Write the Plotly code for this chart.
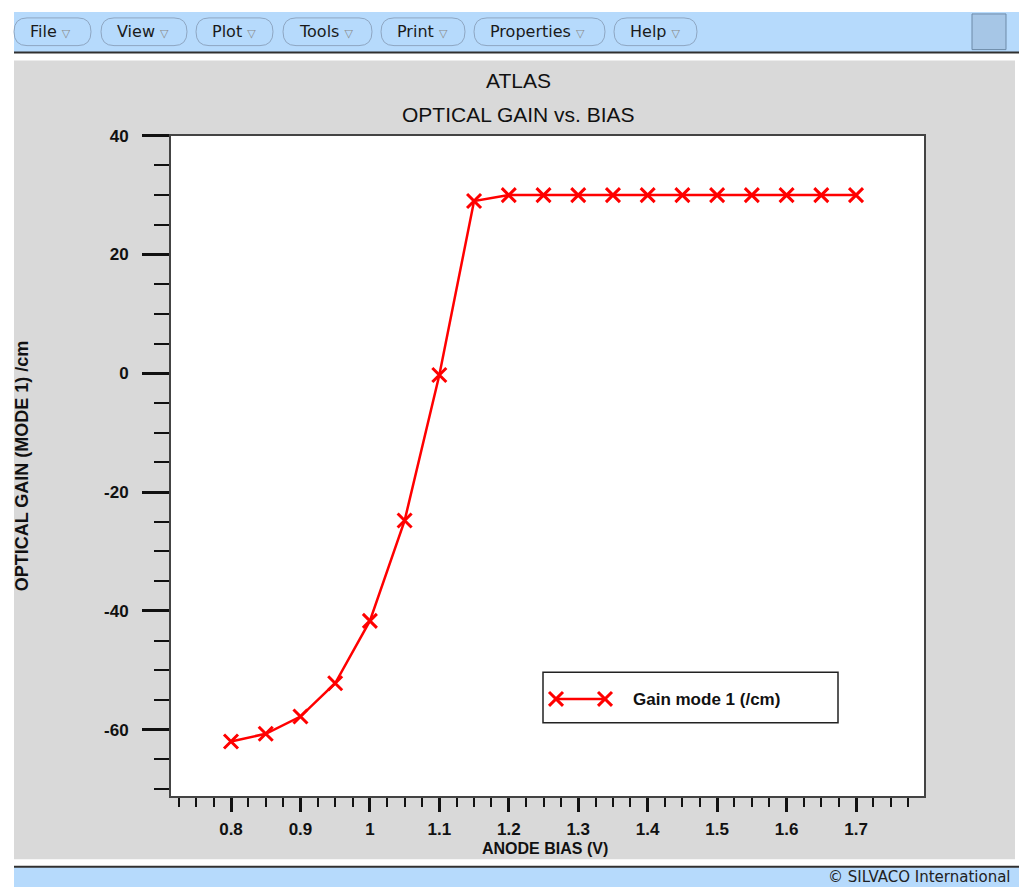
import plotly.graph_objects as go

# ---------------- data ----------------
anode_bias_v = [0.80, 0.85, 0.90, 0.95, 1.00, 1.05, 1.10, 1.15, 1.20, 1.25, 1.30,
                1.35, 1.40, 1.45, 1.50, 1.55, 1.60, 1.65, 1.70]
gain_mode1 = [-62.0, -60.7, -57.8, -52.2, -41.7, -24.8, -0.3, 29.0, 30.0, 30.0, 30.0,
              30.0, 30.0, 30.0, 30.0, 30.0, 30.0, 30.0, 30.0]
series_name = "Gain mode 1 (/cm)"

x_tickvals = [0.8, 0.9, 1.0, 1.1, 1.2, 1.3, 1.4, 1.5, 1.6, 1.7]
x_ticktext = ["0.8", "0.9", "1", "1.1", "1.2", "1.3", "1.4", "1.5", "1.6", "1.7"]
y_tickvals = [-60, -40, -20, 0, 20, 40]
y_ticktext = ["-60", "-40", "-20", "0", "20", "40"]

menu_items = ["File", "View", "Plot", "Tools", "Print", "Properties", "Help"]

# ---------------- layout helpers ----------------
W, H = 1019, 887
def px(x):
    return x / W
def py(y):
    return 1 - y / H

BLUE = "#b6dafc"
GRAY = "#d9d9d9"
RED = "#ff0000"
FONT = "Liberation Sans"

fig = go.Figure()
fig.add_trace(go.Scatter(
    x=anode_bias_v, y=gain_mode1, mode="lines+markers", name=series_name,
    line=dict(color=RED, width=2.5),
    marker=dict(symbol="x-thin", size=14, color=RED, line=dict(color=RED, width=3)),
    showlegend=False, cliponaxis=False,
))

shapes = []
# top menu bar
shapes.append(dict(type="rect", xref="paper", yref="paper", x0=px(14), x1=px(W), y0=py(3), y1=py(44),
                   fillcolor=BLUE, line=dict(width=0), layer="below"))
shapes.append(dict(type="line", xref="paper", yref="paper", x0=px(14), x1=px(W), y0=py(44), y1=py(44),
                   line=dict(color="#303030", width=2), layer="below"))
# gray canvas
shapes.append(dict(type="rect", xref="paper", yref="paper", x0=px(14), x1=px(1015), y0=py(52), y1=py(859),
                   fillcolor=GRAY, line=dict(width=0), layer="below"))
# white plotting area
shapes.append(dict(type="rect", xref="paper", yref="paper", x0=px(171), x1=px(924), y0=py(795), y1=py(128),
                   fillcolor="white", line=dict(width=0), layer="below"))
# footer bar
shapes.append(dict(type="rect", xref="paper", yref="paper", x0=px(14), x1=px(W), y0=py(867), y1=py(H),
                   fillcolor=BLUE, line=dict(width=0), layer="below"))
shapes.append(dict(type="line", xref="paper", yref="paper", x0=px(14), x1=px(W), y0=py(866.5), y1=py(866.5),
                   line=dict(color="#303030", width=2), layer="below"))
# right square in menu bar
shapes.append(dict(type="rect", xref="paper", yref="paper", x0=px(972), x1=px(1006), y0=py(5), y1=py(41),
                   fillcolor="#a6c6e6", line=dict(color="#6d8aa8", width=1), layer="below"))

annotations = []
# menu buttons
btn_x = [(14, 91), (101, 187), (196, 273), (283, 372), (381, 465), (474, 605), (614, 697)]
for label, (x0, x1) in zip(menu_items, btn_x):
    r = 13
    y0, y1 = 9, 37
    path = (f"M {px(x0 + r)} {py(y0)} L {px(x1 - r)} {py(y0)} "
            f"Q {px(x1)} {py(y0)} {px(x1)} {py((y0 + y1) / 2)} "
            f"Q {px(x1)} {py(y1)} {px(x1 - r)} {py(y1)} "
            f"L {px(x0 + r)} {py(y1)} "
            f"Q {px(x0)} {py(y1)} {px(x0)} {py((y0 + y1) / 2)} "
            f"Q {px(x0)} {py(y0)} {px(x0 + r)} {py(y0)} Z")
    shapes.append(dict(type="path", xref="paper", yref="paper", path=path,
                       fillcolor=BLUE, line=dict(color="#8ea6c2", width=1), layer="below"))
    annotations.append(dict(xref="paper", yref="paper", x=px(x0 + 14), y=py(23), xanchor="left", yanchor="middle",
                            text=label + " <span style='font-size:11px;color:#8a8a8a'>\u25bd</span>",
                            showarrow=False, font=dict(family="DejaVu Sans", size=16, color="#1a1a1a")))

# titles
annotations.append(dict(xref="paper", yref="paper", x=px(518), y=py(72), xanchor="center", yanchor="middle",
                        text="ATLAS", showarrow=False, font=dict(family=FONT, size=21, color="#111")))
annotations.append(dict(xref="paper", yref="paper", x=px(518), y=py(107), xanchor="center", yanchor="middle",
                        text="OPTICAL GAIN vs. BIAS", showarrow=False, font=dict(family=FONT, size=21, color="#111")))
# axis titles
annotations.append(dict(xref="paper", yref="paper", x=px(545), y=py(848), xanchor="center", yanchor="middle",
                        text="ANODE BIAS (V)", showarrow=False,
                        font=dict(family=FONT, size=16, color="#111", weight="bold")))
annotations.append(dict(xref="paper", yref="paper", x=px(22), y=py(462), xanchor="center", yanchor="middle",
                        text="OPTICAL GAIN (MODE 1) /cm", textangle=-90, showarrow=False,
                        font=dict(family=FONT, size=18, color="#111", weight="bold")))
# footer text
annotations.append(dict(xref="paper", yref="paper", x=px(1013), y=py(877), xanchor="right", yanchor="middle",
                        text="\u00a9 SILVACO International", showarrow=False,
                        font=dict(family="DejaVu Sans", size=15, color="#222")))

# legend (drawn manually)
shapes.append(dict(type="rect", xref="paper", yref="paper", x0=px(543), x1=px(838), y0=py(670), y1=py(721),
                   fillcolor="white", line=dict(color="#222", width=1.5)))
shapes.append(dict(type="line", xref="paper", yref="paper", x0=px(556), x1=px(605), y0=py(697), y1=py(697),
                   line=dict(color=RED, width=2.5)))
for cx in (556, 605):
    s = 7
    shapes.append(dict(type="path", xref="paper", yref="paper",
                       path=f"M {px(cx - s)} {py(697 - s)} L {px(cx + s)} {py(697 + s)} "
                            f"M {px(cx - s)} {py(697 + s)} L {px(cx + s)} {py(697 - s)}",
                       line=dict(color=RED, width=3)))
annotations.append(dict(xref="paper", yref="paper", x=px(631), y=py(698), xanchor="left", yanchor="middle",
                        text=series_name, showarrow=False,
                        font=dict(family=FONT, size=17, color="#111", weight="bold")))

tickfont = dict(family=FONT, size=17, color="#111", weight="bold")

fig.update_layout(
    width=W, height=H, margin=dict(l=0, r=0, t=0, b=0),
    paper_bgcolor="white", plot_bgcolor="white",
    shapes=shapes, annotations=annotations, showlegend=False,
    xaxis=dict(
        domain=[px(171), px(924)], range=[0.7136, 1.7979],
        tickmode="array", tickvals=x_tickvals, ticktext=x_ticktext,
        ticks="outside", ticklen=14, tickwidth=2.5, tickcolor="#111",
        minor=dict(tickmode="linear", tick0=0.8, dtick=0.025, ticks="outside", ticklen=9,
                   tickwidth=1.5, tickcolor="#111", showgrid=False),
        showline=True, mirror=True, linecolor="#444", linewidth=2,
        showgrid=False, zeroline=False, tickfont=tickfont, ticklabelstandoff=3,
        fixedrange=True,
    ),
    yaxis=dict(
        domain=[py(795), py(128)], range=[-71.17, 40],
        tickmode="array", tickvals=y_tickvals, ticktext=y_ticktext,
        ticks="outside", ticklen=27, tickwidth=2.5, tickcolor="#111",
        minor=dict(tickmode="linear", tick0=0, dtick=5, ticks="outside", ticklen=15,
                   tickwidth=1.5, tickcolor="#111", showgrid=False),
        showline=True, mirror=True, linecolor="#444", linewidth=2,
        showgrid=False, zeroline=False, tickfont=tickfont, ticklabelstandoff=10,
        fixedrange=True,
    ),
)

post = ("document.documentElement.style.margin='0';document.documentElement.style.overflow='hidden';"
        "document.body.style.margin='0';document.body.style.overflow='hidden';"
        "var d=document.getElementById('{plot_id}');d.style.position='fixed';"
        "d.style.top='0px';d.style.left='0px';")

fig.write_html("out.html", config={"displayModeBar": False}, post_script=post)
